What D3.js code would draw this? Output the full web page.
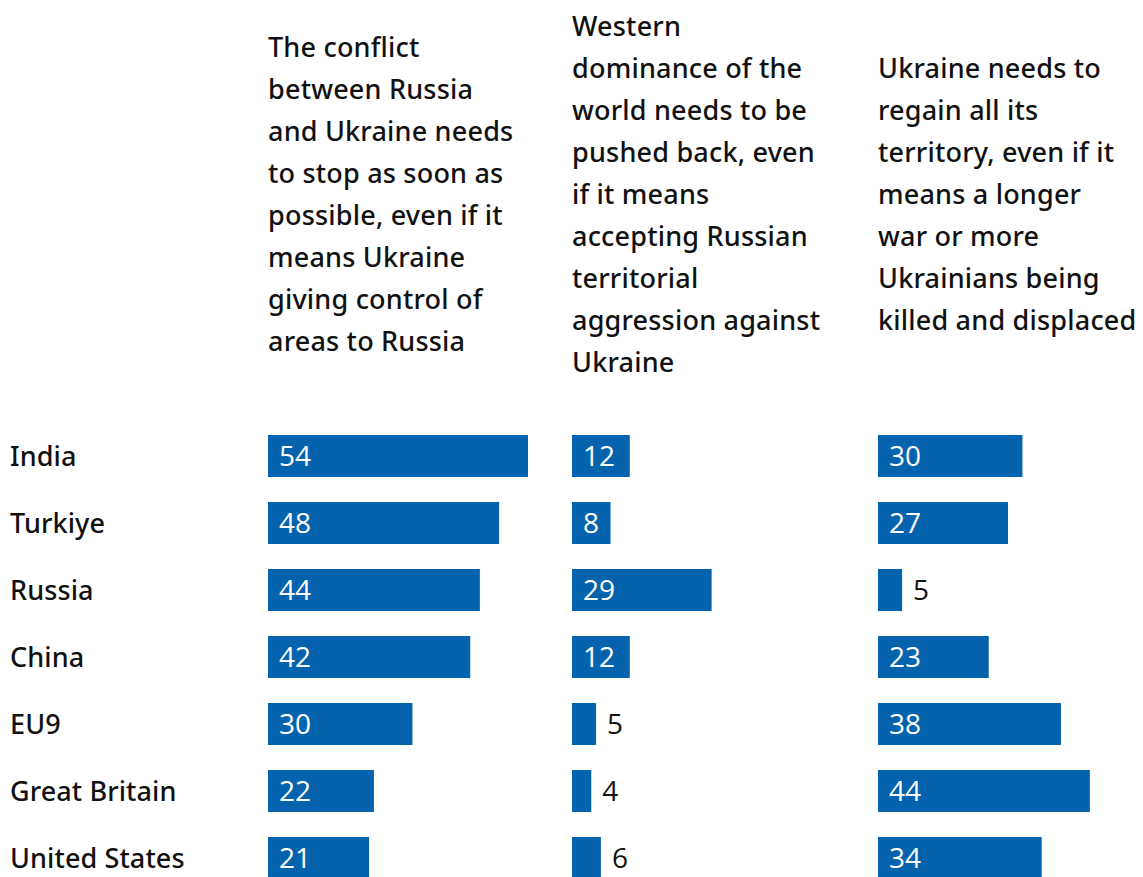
<!DOCTYPE html>
<html><head><meta charset="utf-8">
<script src="https://cdn.jsdelivr.net/npm/d3@7"></script>
<style>html,body{margin:0;padding:0;background:#fff;}</style>
</head><body>
<svg id="chart" width="1143" height="877"></svg>
<script>
const categories = ["India","Turkiye","Russia","China","EU9","Great Britain","United States"];
const headers = [
  ["The conflict","between Russia","and Ukraine needs","to stop as soon as","possible, even if it","means Ukraine","giving control of","areas to Russia"],
  ["Western","dominance of the","world needs to be","pushed back, even","if it means","accepting Russian","territorial","aggression against","Ukraine"],
  ["Ukraine needs to","regain all its","territory, even if it","means a longer","war or more","Ukrainians being","killed and displaced"]
];
const stopConflict = [54,48,44,42,30,22,21];
const pushBackWest = [12,8,29,12,5,4,6];
const regainTerritory = [30,27,5,23,38,44,34];
const series = [stopConflict, pushBackWest, regainTerritory];

const svg = d3.select("#chart");
const blue = "#0563ad";
const headFont = "'Noto Sans', 'Open Sans', sans-serif";
const numFont = "'Open Sans', 'Noto Sans', sans-serif";
const colX = [268, 572, 878];
const headTop = [57, 36, 78];

const x = d3.scaleLinear().domain([0, 54]).range([0, 260]);
const y = d3.scaleBand().domain(categories).range([435, 879]).paddingInner(25/67).paddingOuter(0);

// headers
headers.forEach((lines, i) => {
  const t = svg.append("text").attr("x", colX[i]).attr("y", headTop[i])
    .attr("font-family", headFont).attr("font-size", 27).attr("font-weight", 500)
    .attr("letter-spacing", 0.2).attr("fill", "#111");
  t.selectAll("tspan").data(lines).join("tspan")
    .attr("x", colX[i]).attr("dy", (d, j) => j === 0 ? 0 : 42).text(d => d);
});

// category labels
svg.selectAll("text.cat").data(categories).join("text").attr("class","cat")
  .attr("x", 10).attr("y", d => y(d) + y.bandwidth()/2 + 10)
  .attr("font-family", headFont).attr("font-size", 27).attr("font-weight", 500)
  .attr("letter-spacing", 0.1).attr("fill", "#111")
  .text(d => d);

series.forEach((vals, i) => {
  const g = svg.append("g").attr("transform", `translate(${colX[i]},0)`);
  const data = vals.map((v, k) => ({cat: categories[k], v}));
  g.selectAll("rect").data(data).join("rect")
    .attr("x", 0).attr("y", d => y(d.cat))
    .attr("width", d => x(d.v)).attr("height", y.bandwidth())
    .attr("fill", blue);
  g.selectAll("text").data(data).join("text")
    .attr("x", d => d.v < 7 ? x(d.v) + 11 : 11)
    .attr("y", d => y(d.cat) + y.bandwidth()/2 + 10)
    .attr("font-family", numFont).attr("font-size", 28).attr("font-weight", 500)
    .attr("fill", d => d.v < 7 ? "#111" : "#fff")
    .text(d => d.v);
});
</script>
</body></html>
